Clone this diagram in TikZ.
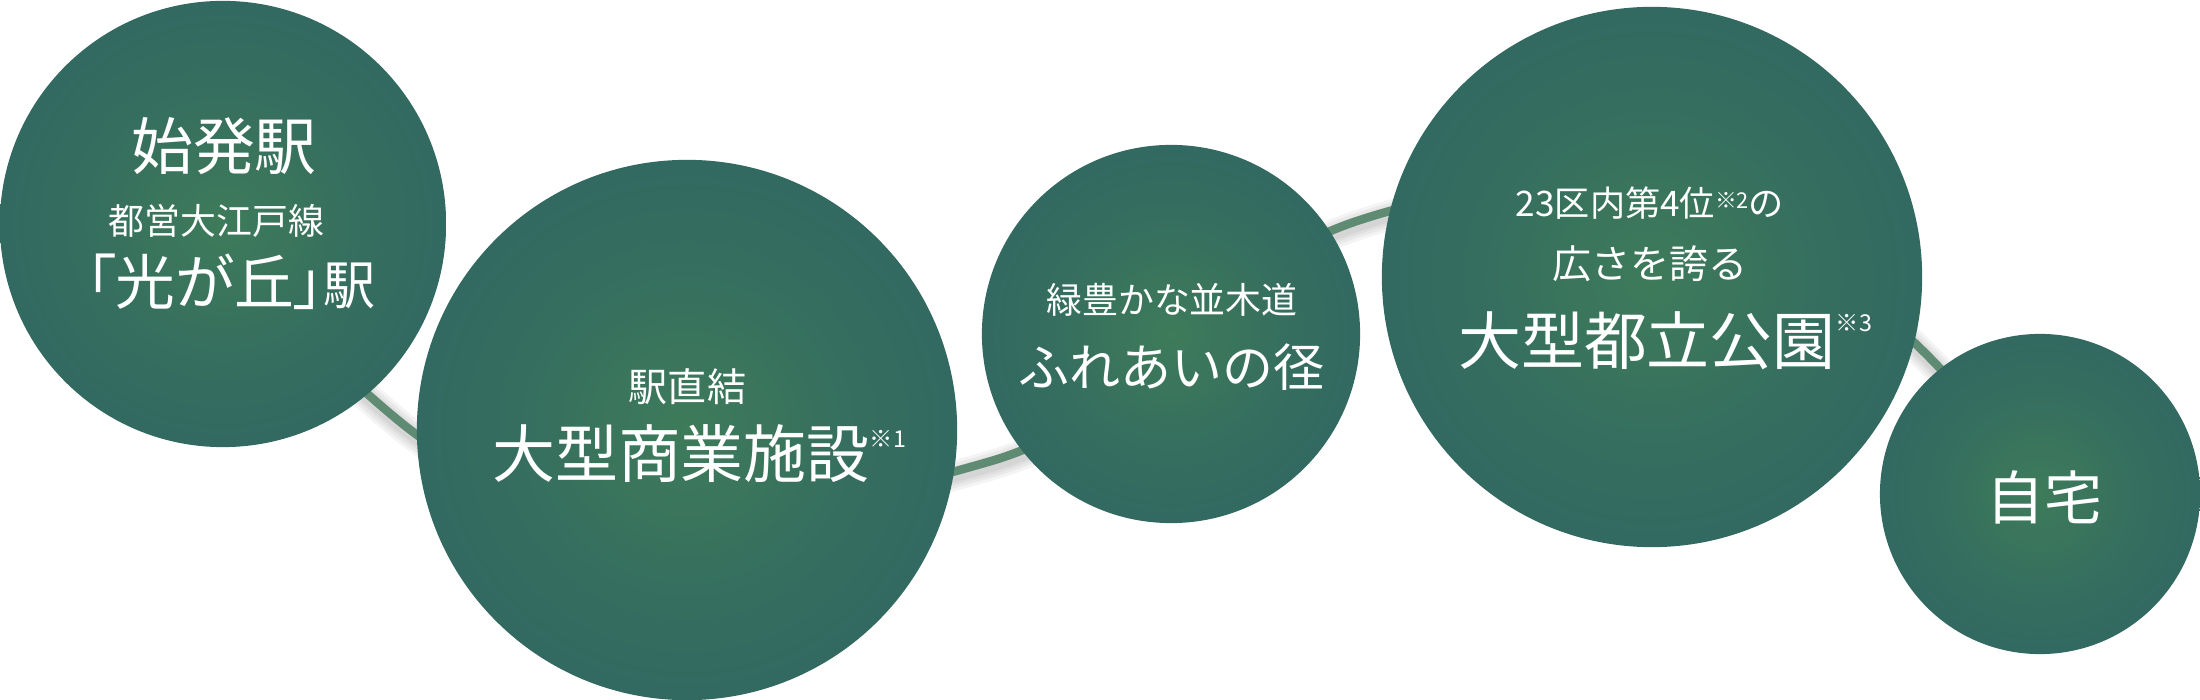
\documentclass[tikz,border=0pt]{standalone}
\usepackage{fontspec}
\setmainfont{Noto Sans CJK JP}
\newfontfamily\jpp{Noto Sans CJK JP}[RawFeature=+palt]
\definecolor{discin}{RGB}{62,123,90}
\definecolor{discmid}{RGB}{53,110,95}
\definecolor{discout}{RGB}{47,100,99}
\definecolor{pathgreen}{RGB}{95,139,114}
\pgfdeclareradialshading{discshade}{\pgfpoint{0bp}{0bp}}{color(0bp)=(discin); color(16bp)=(discmid); color(34bp)=(discout); color(50bp)=(discout)}
\pgfdeclarelayer{bg}
\pgfsetlayers{bg,main}
\newcommand\fsz[1]{\fontsize{#1}{#1}\selectfont}
\begin{document}
\begin{tikzpicture}[x=0.01cm,y=0.01cm,
  disc/.style={circle, inner sep=0pt, shade, shading=discshade},
  txt/.style={text=white, inner sep=0pt, anchor=base},
  route/.style={draw=pathgreen, line width=0.085cm},
  routeshadow/.style={draw=black, draw opacity=0.045, line width=#1, transform canvas={shift={(1,-4)}}}]
\useasboundingbox (0,0) rectangle (2200,700);
% circles
\node[disc, minimum size=4.46cm] (c1) at (223,476) {};
\node[disc, minimum size=5.4cm] (c2) at (687,270) {};
\node[disc, minimum size=3.78cm] (c3) at (1171,366) {};
\node[disc, minimum size=5.4cm] (c4) at (1652,423) {};
\node[disc, minimum size=3.2cm] (c5) at (2040,206) {};
% route waypoints
\coordinate (g1) at (393,284);
\coordinate (g2) at (988,238);
\coordinate (g3) at (1360,480);
\coordinate (g4) at (1927,345);
\begin{pgfonlayer}{bg}
\foreach \w in {0.30cm,0.24cm,0.18cm,0.13cm}{
  \draw[routeshadow=\w] (c1.center) to[out=-55,in=140] (g1) to[out=-40,in=196] (g2)
    to[out=16,in=198] (g3) to[out=18,in=135] (g4) to[out=-45,in=130] (c5.center);
}
\draw[route] (c1.center) to[out=-55,in=140] (g1) to[out=-40,in=196] (g2)
    to[out=16,in=198] (g3) to[out=18,in=135] (g4) to[out=-45,in=130] (c5.center);
\end{pgfonlayer}
% texts
\node[txt] (t1a) at (224,530) {\fsz{17.6pt}始発駅};
\node[txt] (t1b) at (216.5,465) {\fsz{10.2pt}都営大江戸線};
\node[txt] (t1c) at (231,395) {\jpp\fsz{17pt}「光が丘」\fsz{14.8pt}駅};
\node[txt] (t2a) at (687.5,298) {\fsz{11.1pt}駅直結};
\node[txt] (t2b) at (699,222.5) {\fsz{17.9pt}大型商業施設\raisebox{8.5pt}{\fsz{6.6pt}※1}};
\node[txt] (t3a) at (1172,386) {\fsz{10.2pt}緑豊かな並木道};
\node[txt] (t3b) at (1171.5,313) {\fsz{14.5pt}ふれあいの径};
\node[txt] (t4a) at (1650,483) {\fsz{10pt}23区内第4位\raisebox{2.5pt}{\fsz{6.2pt}※2}の};
\node[txt] (t4b) at (1650,421) {\fsz{11.1pt}広さを誇る};
\node[txt] (t4c) at (1665,335) {\fsz{17.9pt}大型都立公園\raisebox{9.4pt}{\fsz{6.6pt}※3}};
\node[txt] (t5) at (2044.5,180.5) {\fsz{16.5pt}自宅};
\end{tikzpicture}
\end{document}
